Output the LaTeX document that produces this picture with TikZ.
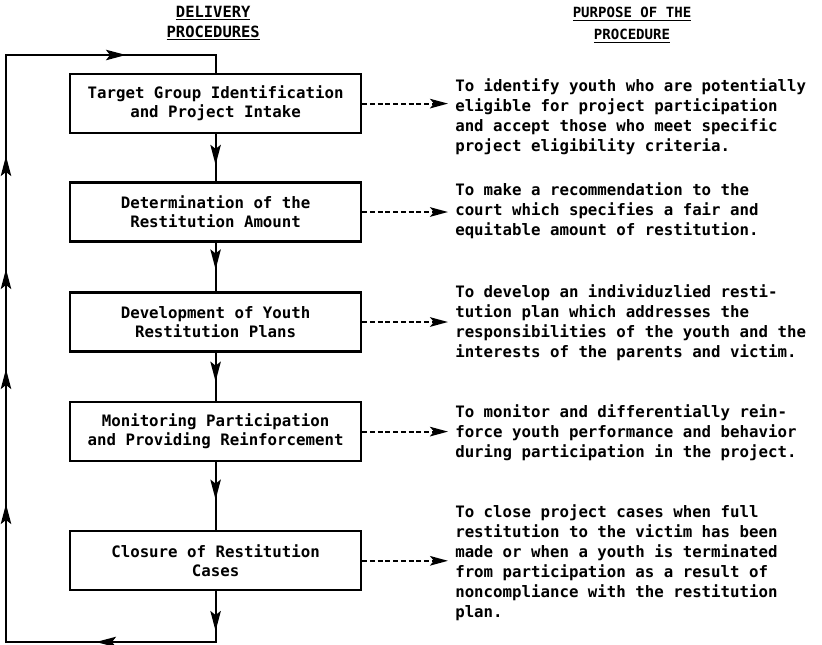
\documentclass[tikz,border=0pt]{standalone}
\usepackage{fontspec}
\setmonofont{DejaVu Sans Mono}
\usetikzlibrary{arrows.meta,decorations.markings}

\begin{document}
\begin{tikzpicture}[>={Stealth[length=5mm,width=2.6mm,inset=1mm]},
  proc/.style={draw,line width=1.6pt,minimum width=7.275cm,minimum height=1.475cm,inner sep=0pt,align=center,font=\ttfamily\bfseries\fontsize{11.2}{13.6}\selectfont},
  purpose/.style={anchor=west,inner sep=0pt,align=left,font=\ttfamily\bfseries\fontsize{11.2}{14.2}\selectfont},
  flow/.style={line width=1.5pt,decoration={markings,mark=at position #1 with {\arrow{>}}},postaction={decorate}},
  link/.style={-{Stealth[length=4.5mm,width=2.4mm,inset=1mm]},line width=1.4pt,dash pattern=on 3.5pt off 2pt,shorten >=5pt}]
  \useasboundingbox (0,0) rectangle (20.55,-16.1);
  \node[anchor=north,inner sep=0pt,align=center,font=\ttfamily\bfseries\fontsize{11}{14.2}\selectfont] (hleft) at (5.33,-0.15) {\underline{DELIVERY}\\\underline{PROCEDURES}};
  \node[anchor=north,inner sep=0pt,align=center,font=\ttfamily\bfseries\fontsize{10}{15.6}\selectfont] (hright) at (15.8,-0.18) {\underline{PURPOSE OF THE}\\\underline{PROCEDURE}};
  \node[proc] (b1) at (5.39,-2.59) {Target Group Identification\\and Project Intake};
  \node[proc] (b2) at (5.39,-5.30) {Determination of the\\Restitution Amount};
  \node[proc] (b3) at (5.39,-8.05) {Development of Youth\\Restitution Plans};
  \node[proc] (b4) at (5.39,-10.79) {Monitoring Participation\\and Providing Reinforcement};
  \node[proc] (b5) at (5.39,-14.02) {Closure of Restitution\\Cases};
  \node[purpose] (p1) at (11.375,-2.91) {To identify youth who are potentially\\eligible for project participation\\and accept those who meet specific\\project eligibility criteria.};
  \node[purpose] (p2) at (11.375,-5.26) {To make a recommendation to the\\court which specifies a fair and\\equitable amount of restitution.};
  \node[purpose] (p3) at (11.375,-8.075) {To develop an individuzlied resti-\\tution plan which addresses the\\responsibilities of the youth and the\\interests of the parents and victim.};
  \node[purpose] (p4) at (11.375,-10.81) {To monitor and differentially rein-\\force youth performance and behavior\\during participation in the project.};
  \node[purpose] (p5) at (11.375,-14.06) {To close project cases when full\\restitution to the victim has been\\made or when a youth is terminated\\from participation as a result of\\noncompliance with the restitution\\plan.};
  \coordinate (bot) at (5.39,-16.05);
  \coordinate (topl) at (0.15,-1.375);
  \draw[flow=0.65] (b1) -- (b2);
  \draw[flow=0.55] (b2) -- (b3);
  \draw[flow=0.6] (b3) -- (b4);
  \draw[flow=0.55] (b4) -- (b5);
  \draw[line width=1.5pt,decoration={markings,
      mark=at position 0.99cm with {\arrow{>}},
      mark=at position 4.255cm with {\arrow{>}},
      mark=at position 9.955cm with {\arrow{>}},
      mark=at position 13.33cm with {\arrow{>}},
      mark=at position 15.83cm with {\arrow{>}},
      mark=at position 18.655cm with {\arrow{>}},
      mark=at position 24.18cm with {\arrow{>}}},postaction={decorate}]
    (b5.south) -- (b5.south |- bot) -| (topl) -| (b1.north);
  \draw[link] (b1.east) -- (b1.east -| p1.west);
  \draw[link] (b2.east) -- (b2.east -| p2.west);
  \draw[link] (b3.east) -- (b3.east -| p3.west);
  \draw[link] (b4.east) -- (b4.east -| p4.west);
  \draw[link] (b5.east) -- (b5.east -| p5.west);
\end{tikzpicture}
\end{document}
